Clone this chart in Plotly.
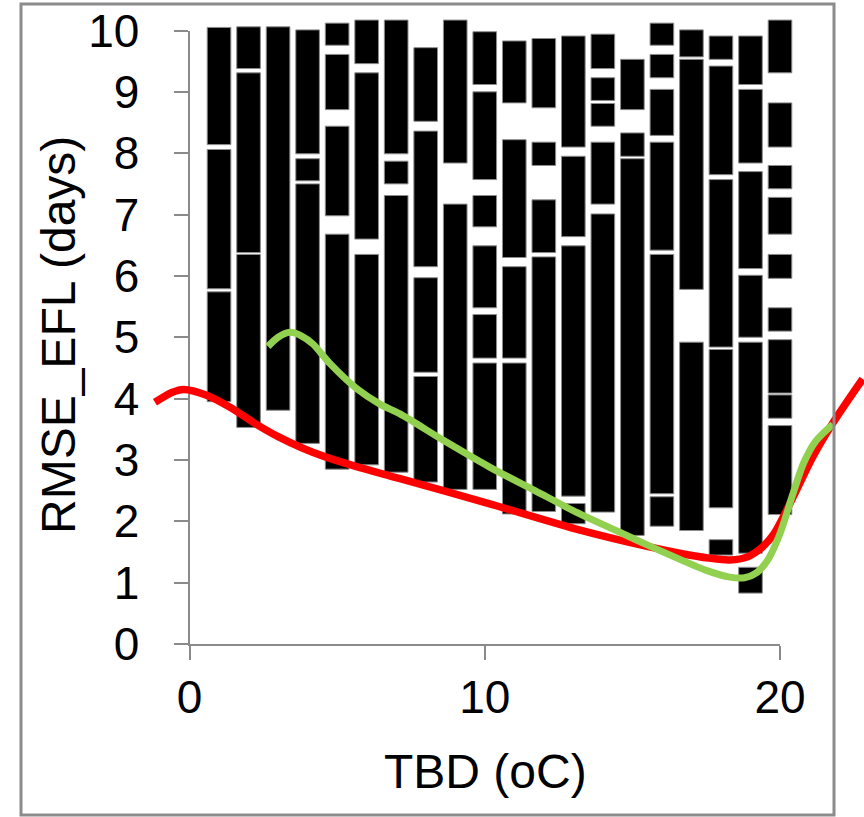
import plotly.graph_objects as go

# ---------------- data ----------------
x_tick_vals = [0, 10, 20]
y_tick_vals = [0, 1, 2, 3, 4, 5, 6, 7, 8, 9, 10]

# black rectangles: column position (TBD), bottom and top of each segment (RMSE_EFL, days)
seg_x = (
    [1] * 3 + [2] * 3 + [3] * 1 + [4] * 3 + [5] * 4 + [6] * 3 + [7] * 3 + [8] * 4 + [9] * 2 + [10] * 6 +
    [11] * 4 + [12] * 4 + [13] * 4 + [14] * 5 + [15] * 3 + [16] * 6 + [17] * 3 + [18] * 5 + [19] * 6 + [20] * 9
)
seg_low = [
    3.95, 5.79, 8.14,
    3.53, 6.38, 9.38,
    3.81,
    3.27, 7.55, 7.99,
    2.85, 6.98, 8.71, 9.76,
    2.92, 6.60, 9.46,
    2.80, 7.50, 7.99,
    2.64, 4.43, 6.15, 8.52,
    2.52, 7.84,
    2.52, 4.66, 5.48, 6.80, 7.57, 9.12,
    2.12, 4.66, 6.30, 8.82,
    2.16, 6.38, 7.80, 8.74,
    1.96, 2.41, 6.64, 8.10,
    2.15, 7.17, 8.44, 8.86, 9.38,
    1.77, 7.95, 8.71,
    1.92, 2.45, 6.42, 8.29, 9.23, 9.76,
    1.85, 5.78, 9.57,
    1.45, 2.22, 4.84, 7.65, 9.53,
    0.83, 1.48, 5.00, 6.12, 7.84, 9.12,
    2.11, 3.68, 4.09, 5.10, 5.96, 6.68, 7.42, 8.10, 9.31,
]
seg_high = [
    5.74, 8.06, 10.05,
    6.35, 9.31, 10.06,
    10.06,
    7.50, 7.91, 10.01,
    6.68, 8.44, 9.61, 10.12,
    6.35, 9.31, 10.17,
    7.31, 7.87, 10.17,
    4.36, 5.97, 8.36, 9.72,
    7.17, 10.17,
    4.58, 5.37, 6.49, 7.31, 9.00, 9.98,
    4.58, 6.15, 8.22, 9.83,
    6.31, 7.24, 8.18, 9.87,
    2.29, 6.49, 7.95, 9.91,
    7.01, 8.18, 8.81, 9.23, 9.94,
    7.91, 8.33, 9.53,
    2.40, 6.35, 8.18, 9.04, 9.61, 10.12,
    4.92, 9.53, 10.01,
    1.70, 4.80, 7.57, 9.42, 9.91,
    1.25, 4.92, 6.01, 7.70, 9.04, 9.91,
    3.56, 4.06, 4.96, 5.48, 6.35, 7.28, 7.80, 8.82, 10.17,
]

red_x = [-1.17, -0.6, -0.2, 0.6, 1.4, 2.2, 3.0, 3.8, 4.6, 5.6, 7.1, 10.2, 13.2, 15.5,
         16.6, 17.6, 18.3, 18.9, 19.4, 19.8, 20.4, 21.1, 21.8, 22.8]
red_y = [3.94, 4.10, 4.15, 4.05, 3.85, 3.60, 3.38, 3.20, 3.05, 2.90, 2.70, 2.28, 1.86, 1.59,
         1.48, 1.40, 1.37, 1.42, 1.58, 1.80, 2.35, 3.04, 3.61, 4.32]

green_x = [2.66, 3.0, 3.40, 3.8, 4.18, 4.76, 5.67, 6.45, 7.13, 8.6, 10.18, 11.7, 13.22, 14.4, 15.48,
           16.61, 17.5, 18.30, 18.8, 19.2, 19.6, 20.0, 20.44, 20.8, 21.2, 21.79]
green_y = [4.85, 5.0, 5.08, 5.02, 4.89, 4.57, 4.16, 3.91, 3.75, 3.32, 2.88, 2.50, 2.12, 1.86, 1.62,
           1.38, 1.20, 1.09, 1.08, 1.16, 1.38, 1.80, 2.45, 2.95, 3.30, 3.58]

# ---------------- geometry (pixels of the 864x817 page) ----------------
W, H = 864, 817
x0px, x1px = 189.5, 780.0    # x = 0 and x = 20
y0px, y1px = 644.0, 30.5     # y = 0 and y = 10
upx = 20.0 / (x1px - x0px)
upy = 10.0 / (y0px - y1px)
full_xrange = [0 - x0px * upx, 20 + (W - x1px) * upx]
full_yrange = [0 - (H - y0px) * upy, 10 + y1px * upy]

FONT = "Liberation Sans, Arial, sans-serif"
AXIS_GRAY = "#8a8a8a"

fig = go.Figure()

# empty trace so the visible axes get drawn
fig.add_trace(go.Scatter(x=[], y=[], xaxis="x", yaxis="y", showlegend=False, hoverinfo="skip"))

fig.add_trace(go.Bar(
    x=seg_x, base=seg_low, y=[h - l for l, h in zip(seg_low, seg_high)],
    width=0.8, marker=dict(color="black", line=dict(color="#8c8c8c", width=1)),
    xaxis="x2", yaxis="y2", showlegend=False, hoverinfo="skip",
))
fig.add_trace(go.Scatter(
    x=red_x, y=red_y, mode="lines", line=dict(color="#ff0000", width=7.5, shape="spline", smoothing=0.8),
    xaxis="x2", yaxis="y2", showlegend=False,
))
fig.add_trace(go.Scatter(
    x=green_x, y=green_y, mode="lines", line=dict(color="#92d050", width=7, shape="spline", smoothing=0.8),
    xaxis="x2", yaxis="y2", showlegend=False,
))

fig.update_layout(
    width=W, height=H, autosize=False,
    margin=dict(l=0, r=0, t=0, b=0, pad=0, autoexpand=False),
    paper_bgcolor="white", plot_bgcolor="rgba(0,0,0,0)",
    barmode="overlay",
    font=dict(family=FONT, color="black", size=46),
    xaxis=dict(
        domain=[x0px / W, x1px / W], range=[0, 20], anchor="y", automargin=False,
        tickvals=x_tick_vals, ticktext=[str(v) for v in x_tick_vals],
        showline=True, linecolor=AXIS_GRAY, linewidth=2,
        ticks="outside", ticklen=14, tickwidth=2, tickcolor=AXIS_GRAY,
        ticklabelstandoff=-2, showgrid=False, zeroline=False, fixedrange=True,
        tickfont=dict(size=46, family=FONT, color="black"),
    ),
    yaxis=dict(
        domain=[(H - y0px) / H, (H - y1px) / H], range=[0, 10], anchor="x", automargin=False,
        tickvals=y_tick_vals, ticktext=[str(v) for v in y_tick_vals],
        showline=True, linecolor=AXIS_GRAY, linewidth=2,
        ticks="outside", ticklen=14, tickwidth=2, tickcolor=AXIS_GRAY,
        ticklabelstandoff=25, showgrid=False, zeroline=False, fixedrange=True,
        tickfont=dict(size=46, family=FONT, color="black"),
    ),
    xaxis2=dict(domain=[0, 1], range=full_xrange, anchor="y2", visible=False, fixedrange=True, automargin=False),
    yaxis2=dict(domain=[0, 1], range=full_yrange, anchor="x2", visible=False, fixedrange=True, automargin=False),
    annotations=[
        dict(text="RMSE_EFL (days)", xref="paper", yref="paper", x=58 / W, y=1 - 335 / H,
             textangle=-90, showarrow=False, xanchor="center", yanchor="middle",
             font=dict(size=48, family=FONT, color="black")),
        dict(text="TBD (oC)", xref="paper", yref="paper", x=485 / W, y=1 - 771 / H,
             showarrow=False, xanchor="center", yanchor="middle",
             font=dict(size=48, family=FONT, color="black")),
    ],
    shapes=[
        dict(type="rect", xref="paper", yref="paper", x0=21 / W, x1=834 / W, y0=1 - 815 / H, y1=1 - 4 / H,
             line=dict(color="#8c8c8c", width=3), fillcolor="rgba(0,0,0,0)", layer="above"),
    ],
)

fig.write_html("out.html", config={"responsive": False})
